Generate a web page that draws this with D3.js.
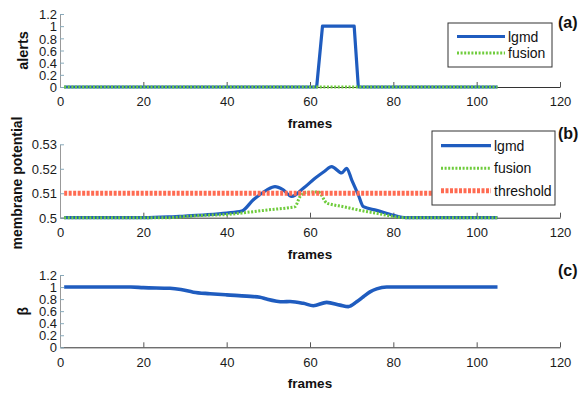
<!DOCTYPE html>
<html>
<head>
<meta charset="utf-8">
<script src="https://cdn.jsdelivr.net/npm/d3@7"></script>
<style>
  body { margin: 0; background: #fff; }
  svg { display: block; font-family: "Liberation Sans", Arial, sans-serif; }
  .tick text { font-size: 13px; fill: #1a1a1a; }
  .lab { font-weight: bold; fill: #111; }
</style>
</head>
<body>
<svg width="580" height="394"></svg>
<script>
// data ====================================================================
var xTicks = [0, 20, 40, 60, 80, 100, 120];
var unitTicks = [0, 0.2, 0.4, 0.6, 0.8, 1, 1.2];
var potTicks = [0.5, 0.51, 0.52, 0.53];

// (a) alerts
var alertFrames = [1, 61.6, 63, 70.6, 71.6, 105];
var lgmdAlert = [0, 0, 1, 1, 0, 0];
var fusionAlertFrames = [1, 105];
var fusionAlert = [0, 0];

// (b) membrane potential
var lgmdPotFrames = [1, 20, 26, 30, 35, 40, 43.6, 46.4, 49.6, 51.6, 53.5, 55.6, 58.4, 61.2, 63.5, 65.2, 67.6, 68.8, 70, 71.6, 72.8, 76, 80, 83, 105];
var lgmdPot = [0.5, 0.5, 0.5003, 0.5007, 0.5012, 0.5019, 0.5027, 0.5073, 0.5113, 0.5127, 0.5115, 0.5087, 0.512, 0.5161, 0.519, 0.5209, 0.5183, 0.5202, 0.5155, 0.5093, 0.5045, 0.503, 0.501, 0.5, 0.5];
var fusionPotFrames = [1, 26, 30, 35, 40, 45, 50, 55, 56.4, 57.6, 59.2, 62, 64, 65, 68, 72, 76, 80, 83, 105];
var fusionPot = [0.5, 0.5, 0.5005, 0.501, 0.5013, 0.5022, 0.5032, 0.5041, 0.5045, 0.5086, 0.5104, 0.5105, 0.506, 0.5055, 0.5045, 0.503, 0.5018, 0.5005, 0.5, 0.5];
var thresholdFrames = [1, 105];
var threshold = [0.51, 0.51];

// (c) beta
var betaFrames = [1, 17, 20, 26.4, 29, 32, 36, 40, 44.8, 48, 49.6, 53.6, 55.2, 58.4, 60.8, 64, 67.2, 69.2, 71.2, 72.8, 74.4, 76, 78.4, 85, 105];
var beta = [1, 1, 0.99, 0.98, 0.96, 0.915, 0.89, 0.87, 0.85, 0.83, 0.8, 0.755, 0.76, 0.73, 0.69, 0.746, 0.70, 0.675, 0.755, 0.84, 0.92, 0.97, 1, 1, 1];

// styles ==================================================================
var BLUE = "#1f5cbf", GREEN = "#6fcc3c", RED = "#ff6b52";
var styles = {
  lgmd: { stroke: BLUE, width: 3.2, dash: null },
  fusion: { stroke: GREEN, width: 3, dash: "2,1.6" },
  threshold: { stroke: RED, width: 5, dash: "3,1.5" },
  beta: { stroke: BLUE, width: 3.6, dash: null }
};

var svg = d3.select("svg");
var x = d3.scaleLinear().domain([0, 120]).range([60, 560]);

function zip(fr, vals) {
  return fr.map(function(f, i) { return [f, vals[i]]; });
}

function drawLine(g, y, pts, st, curve) {
  var line = d3.line()
    .curve(curve || d3.curveLinear)
    .x(function(d) { return x(d[0]); })
    .y(function(d) { return y(d[1]); });
  g.append("path")
    .datum(pts)
    .attr("d", line)
    .attr("fill", "none")
    .attr("stroke", st.stroke)
    .attr("stroke-width", st.width)
    .attr("stroke-dasharray", st.dash)
    .attr("stroke-linejoin", "round");
}

// one panel: axes, labels, series
function panel(opt) {
  var y = d3.scaleLinear().domain(opt.yDomain).range(opt.yRange);
  var g = svg.append("g");
  var bottom = opt.yRange[0];

  g.append("g")
    .attr("transform", "translate(0," + bottom + ")")
    .call(d3.axisBottom(x).tickValues(xTicks).tickSize(-5).tickSizeOuter(0).tickPadding(10))
    .call(function(a) {
      a.select(".domain").attr("stroke", "#333");
      a.selectAll(".tick line").attr("stroke", "#555");
    });

  g.append("g")
    .attr("transform", "translate(" + x(0) + ",0)")
    .call(d3.axisLeft(y).tickValues(opt.yTicks).tickSize(-4).tickSizeOuter(0).tickPadding(3)
      .tickFormat(function(d) { return String(+d.toFixed(3)); }))
    .call(function(a) {
      a.select(".domain").attr("stroke", "#999");
      a.selectAll(".tick line").attr("stroke", "#8ab");
      a.selectAll(".tick text").attr("dy", "0.36em");
    });

  opt.series.forEach(function(s) { drawLine(g, y, s.pts, styles[s.style], s.curve); });

  g.append("text").attr("class", "lab")
    .attr("x", x(60)).attr("y", bottom + 41)
    .attr("text-anchor", "middle").attr("font-size", 13.5)
    .text("frames");

  var midY = (opt.yRange[0] + opt.yRange[1]) / 2 + opt.yLabelShift;
  g.append("text").attr("class", "lab")
    .attr("transform", "translate(" + opt.yLabelX + "," + midY + ") rotate(-90)")
    .attr("text-anchor", "middle").attr("font-size", opt.yLabelSize)
    .text(opt.yLabel);

  g.append("text").attr("class", "lab")
    .attr("x", 558).attr("y", opt.tagY)
    .attr("font-size", 16)
    .text(opt.tag);

  if (opt.legend) legend(g, opt.legend);
}

function legend(g, L) {
  g.append("rect")
    .attr("x", L.x).attr("y", L.y).attr("width", L.w).attr("height", L.h)
    .attr("fill", "#fff").attr("stroke", "#333").attr("stroke-width", 1);
  L.items.forEach(function(it, i) {
    var yy = L.y + L.first + i * L.step;
    var st = styles[it.style];
    g.append("line")
      .attr("x1", L.x + 9).attr("x2", L.x + 9 + L.len)
      .attr("y1", yy).attr("y2", yy)
      .attr("stroke", st.stroke).attr("stroke-width", st.width)
      .attr("stroke-dasharray", st.dash);
    g.append("text")
      .attr("x", L.x + 12 + L.len).attr("y", yy + 5)
      .attr("font-size", 14).attr("fill", "#111")
      .text(it.name);
  });
}

// Main ====================================================================
panel({
  yDomain: [0, 1.2], yRange: [87, 14], yTicks: unitTicks,
  yLabel: "alerts", yLabelX: 28, yLabelSize: 14.5, yLabelShift: 0,
  tag: "(a)", tagY: 28,
  series: [
    { pts: zip(alertFrames, lgmdAlert), style: "lgmd" },
    { pts: zip(fusionAlertFrames, fusionAlert), style: "fusion" }
  ],
  legend: { x: 448, y: 23, w: 104, h: 44, first: 13.5, step: 16.6, len: 48,
    items: [{ name: "lgmd", style: "lgmd" }, { name: "fusion", style: "fusion" }] }
});

panel({
  yDomain: [0.5, 0.53], yRange: [217.7, 144.3], yTicks: potTicks,
  yLabel: "membrane potential", yLabelX: 22, yLabelSize: 14, yLabelShift: 2,
  tag: "(b)", tagY: 139,
  series: [
    { pts: zip(lgmdPotFrames, lgmdPot), style: "lgmd", curve: d3.curveMonotoneX },
    { pts: zip(fusionPotFrames, fusionPot), style: "fusion", curve: d3.curveMonotoneX },
    { pts: zip(thresholdFrames, threshold), style: "threshold" }
  ],
  legend: { x: 432, y: 131, w: 123, h: 74, first: 14.7, step: 22.5, len: 50,
    items: [{ name: "lgmd", style: "lgmd" }, { name: "fusion", style: "fusion" }, { name: "threshold", style: "threshold" }] }
});

panel({
  yDomain: [0, 1.2], yRange: [347.3, 275], yTicks: unitTicks,
  yLabel: "β", yLabelX: 28, yLabelSize: 14, yLabelShift: 0,
  tag: "(c)", tagY: 276,
  series: [
    { pts: zip(betaFrames, beta), style: "beta", curve: d3.curveMonotoneX }
  ]
});
</script>
</body>
</html>
